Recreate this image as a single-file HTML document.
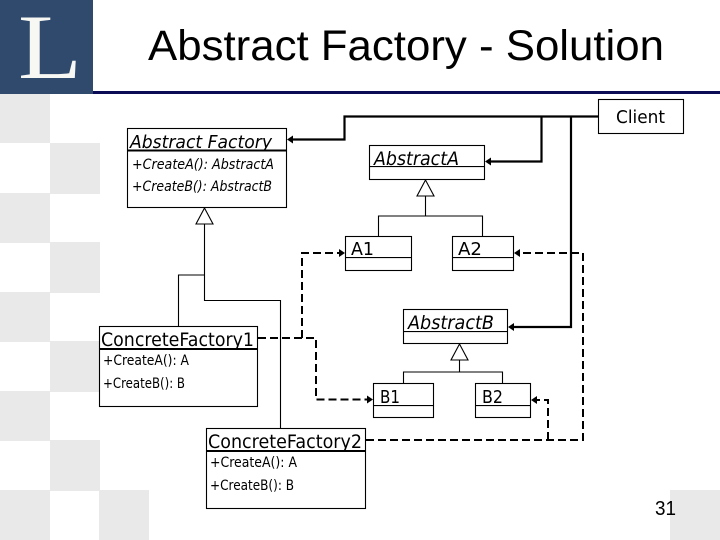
<!DOCTYPE html>
<html>
<head>
<meta charset="utf-8">
<style>
html,body{margin:0;padding:0;background:#fff}
svg{display:block}
.u{font-family:"DejaVu Sans",sans-serif;fill:#000}
.i{font-style:italic}
.b{fill:#fff;stroke:#000;stroke-width:1.1}
.l{fill:none;stroke:#000;stroke-width:1.1}
.t{fill:none;stroke:#000;stroke-width:2.2}
.d{fill:none;stroke:#000;stroke-width:2;stroke-dasharray:8 4}
.g{fill:#e9e9e9}
</style>
</head>
<body>
<svg width="720" height="540" viewBox="0 0 720 540" xmlns="http://www.w3.org/2000/svg">
<rect width="720" height="540" fill="#fff"/>
<!-- checker background -->
<rect class="g" x="0" y="94" width="50" height="49"/>
<rect class="g" x="50" y="143" width="50" height="51"/>
<rect class="g" x="0" y="193" width="50" height="50"/>
<rect class="g" x="50" y="242" width="50" height="51"/>
<rect class="g" x="0" y="292" width="50" height="50"/>
<rect class="g" x="50" y="341" width="50" height="51"/>
<rect class="g" x="0" y="391" width="50" height="50"/>
<rect class="g" x="50" y="440" width="50" height="51"/>
<rect class="g" x="0" y="490" width="50" height="50"/>
<rect class="g" x="99" y="490" width="50" height="50"/>
<rect class="g" x="670" y="490" width="50" height="50"/>
<!-- header -->
<rect x="0" y="0" width="93" height="94" fill="#2f4a6d"/>
<rect x="93" y="91" width="627" height="3" fill="#0b0b55"/>
<text x="18" y="78" font-family="'Liberation Serif',serif" font-size="92" fill="#f7f7f3" textLength="64" lengthAdjust="spacingAndGlyphs">L</text>
<text x="148" y="60" font-family="'Liberation Sans',sans-serif" font-size="43" fill="#000" textLength="516" lengthAdjust="spacingAndGlyphs">Abstract Factory - Solution</text>

<!-- thin inheritance lines -->
<path class="l" d="M204.5 224V300.5H280.5V428.5"/>
<path class="l" d="M204.5 275H178.5V326.5"/>
<path class="l" d="M425.5 196V216M378.5 236.5V216H482.5V236.5"/>
<path class="l" d="M459.5 360V372M403.5 383V372H502.5V383"/>
<!-- triangles -->
<path class="b" d="M204.5 208L196 224H213Z"/>
<path class="b" d="M425.5 180L417 196H434Z"/>
<path class="b" d="M459.5 344L451 360H468Z"/>

<!-- dashed dependencies -->
<path class="d" d="M258 338H316V399.5H369"/>
<path class="d" d="M302 338V253H341"/>
<path class="d" d="M366 440H583V253H519"/>
<path class="d" d="M548 440V400H535"/>
<!-- thick associations -->
<path class="t" d="M598 116.5H344.5V139.5H291"/>
<path class="t" d="M541.5 116.5V161.5H489"/>
<path class="t" d="M571 116.5V327H512"/>
<!-- arrowheads -->
<path d="M287 139.5L293 135.5V143.5Z"/>
<path d="M485 161.5L491 157.5V165.5Z"/>
<path d="M345 253L339 249V257Z"/>
<path d="M514 253L520 249V257Z"/>
<path d="M508 327L514 323V331Z"/>
<path d="M373 399.5L367 395.5V403.5Z"/>
<path d="M531 400L537 396V404Z"/>

<!-- boxes -->
<rect class="b" x="127.5" y="128.5" width="159" height="79"/>
<rect x="127.5" y="149.5" width="159" height="2"/>
<rect class="b" x="369.5" y="145.5" width="115" height="34"/>
<rect x="369.5" y="166" width="115" height="1.1"/>
<rect class="b" x="345.5" y="236.5" width="66" height="34"/>
<rect x="345.5" y="257" width="66" height="1.1"/>
<rect class="b" x="452.5" y="236.5" width="61" height="34"/>
<rect x="452.5" y="257" width="61" height="1.1"/>
<rect class="b" x="403.5" y="309.5" width="104" height="34"/>
<rect x="403.5" y="331" width="104" height="1.1"/>
<rect class="b" x="373.5" y="383.5" width="60" height="34"/>
<rect x="373.5" y="405" width="60" height="1.1"/>
<rect class="b" x="475.5" y="383.5" width="55" height="34"/>
<rect x="475.5" y="405" width="55" height="1.1"/>
<rect class="b" x="99.5" y="326.5" width="158" height="80"/>
<rect x="99.5" y="348" width="158" height="2"/>
<rect class="b" x="206.5" y="428.5" width="159" height="80"/>
<rect x="206.5" y="450" width="159" height="2"/>
<rect class="b" x="598.5" y="99.5" width="85" height="34"/>

<!-- labels -->
<text class="u i" x="130" y="148" font-size="18" textLength="142" lengthAdjust="spacingAndGlyphs">Abstract Factory</text>
<text class="u i" x="132" y="169" font-size="14" textLength="142" lengthAdjust="spacingAndGlyphs">+CreateA(): AbstractA</text>
<text class="u i" x="132" y="191" font-size="14" textLength="140" lengthAdjust="spacingAndGlyphs">+CreateB(): AbstractB</text>
<text class="u i" x="374" y="165" font-size="19" textLength="85" lengthAdjust="spacingAndGlyphs">AbstractA</text>
<text class="u i" x="408" y="329" font-size="19" textLength="86" lengthAdjust="spacingAndGlyphs">AbstractB</text>
<text class="u" x="351" y="255" font-size="18" textLength="23" lengthAdjust="spacingAndGlyphs">A1</text>
<text class="u" x="458" y="255" font-size="18" textLength="24" lengthAdjust="spacingAndGlyphs">A2</text>
<text class="u" x="380" y="403" font-size="18" textLength="20" lengthAdjust="spacingAndGlyphs">B1</text>
<text class="u" x="482" y="403" font-size="18" textLength="21" lengthAdjust="spacingAndGlyphs">B2</text>
<text class="u" x="616" y="123" font-size="18" textLength="49" lengthAdjust="spacingAndGlyphs">Client</text>
<text class="u" x="101" y="346" font-size="18.5" textLength="153" lengthAdjust="spacingAndGlyphs">ConcreteFactory1</text>
<text class="u" x="103" y="365" font-size="14" textLength="86" lengthAdjust="spacingAndGlyphs">+CreateA(): A</text>
<text class="u" x="103" y="388" font-size="14" textLength="82" lengthAdjust="spacingAndGlyphs">+CreateB(): B</text>
<text class="u" x="208" y="448" font-size="18.5" textLength="154" lengthAdjust="spacingAndGlyphs">ConcreteFactory2</text>
<text class="u" x="210" y="467" font-size="14" textLength="87" lengthAdjust="spacingAndGlyphs">+CreateA(): A</text>
<text class="u" x="210" y="490" font-size="14" textLength="84" lengthAdjust="spacingAndGlyphs">+CreateB(): B</text>
<text x="655" y="515" font-family="'Liberation Sans',sans-serif" font-size="20" fill="#000" textLength="21" lengthAdjust="spacingAndGlyphs">31</text>
</svg>
</body>
</html>
